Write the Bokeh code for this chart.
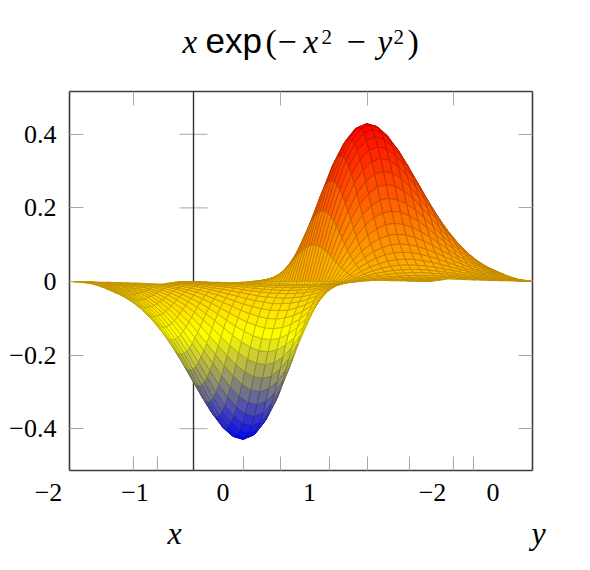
from bokeh.plotting import figure
from bokeh.models import (ColumnDataSource, FixedTicker, LabelSet, LinearAxis, Range1d)
from bokeh.core.properties import value
from bokeh.embed import file_html
from bokeh.resources import INLINE
import numpy as np

# Surface heights, in thousandths.
# Rows run along x_samples, columns along y_samples.
x_samples = [-2.0,-1.9,-1.8,-1.7,-1.6,-1.5,-1.4,-1.3,-1.2,-1.1,-1.0,-0.9,-0.8,-0.7,-0.6,-0.5,-0.4,-0.3,-0.2,-0.1,0.0,
             0.1,0.2,0.3,0.4,0.5,0.6,0.7,0.8,0.9,1.0,1.1,1.2,1.3,1.4,1.5,1.6,1.7,1.8,1.9,2.0]
y_samples = list(x_samples)
z_thousandths = [
[-1,-1,-1,-2,-3,-4,-5,-7,-9,-11,-14,-16,-20,-23,-26,-29,-32,-34,-36,-37,-37,-37,-36,-34,-32,-29,-26,-23,-20,-16,-14,-11,-9,-7,-5,-4,-3,-2,-1,-1,-1],
[-1,-1,-2,-3,-4,-5,-7,-9,-12,-15,-19,-23,-27,-31,-36,-40,-43,-47,-49,-50,-51,-50,-49,-47,-43,-40,-36,-31,-27,-23,-19,-15,-12,-9,-7,-5,-4,-3,-2,-1,-1],
[-1,-2,-3,-4,-5,-7,-10,-13,-17,-21,-26,-32,-37,-44,-50,-55,-60,-65,-68,-70,-71,-70,-68,-65,-60,-55,-50,-44,-37,-32,-26,-21,-17,-13,-10,-7,-5,-4,-3,-2,-1],
[-2,-3,-4,-5,-7,-10,-13,-18,-23,-28,-35,-42,-50,-58,-66,-74,-81,-87,-91,-94,-95,-94,-91,-87,-81,-74,-66,-58,-50,-42,-35,-28,-23,-18,-13,-10,-7,-5,-4,-3,-2],
[-2,-3,-5,-7,-10,-13,-17,-23,-29,-37,-46,-55,-65,-76,-87,-97,-106,-113,-119,-123,-124,-123,-119,-113,-106,-97,-87,-76,-65,-55,-46,-37,-29,-23,-17,-13,-10,-7,-5,-3,-2],
[-3,-4,-6,-9,-12,-17,-22,-29,-37,-47,-58,-70,-83,-97,-110,-123,-135,-144,-152,-156,-158,-156,-152,-144,-135,-123,-110,-97,-83,-70,-58,-47,-37,-29,-22,-17,-12,-9,-6,-4,-3],
[-4,-5,-8,-11,-15,-21,-28,-36,-47,-59,-72,-88,-104,-121,-138,-153,-168,-180,-189,-195,-197,-195,-189,-180,-168,-153,-138,-121,-104,-88,-72,-59,-47,-36,-28,-21,-15,-11,-8,-5,-4],
[-4,-6,-9,-13,-18,-25,-34,-44,-57,-72,-88,-107,-126,-147,-168,-187,-204,-219,-231,-238,-240,-238,-231,-219,-204,-187,-168,-147,-126,-107,-88,-72,-57,-44,-34,-25,-18,-13,-9,-6,-4],
[-5,-8,-11,-16,-22,-30,-40,-53,-67,-85,-105,-126,-150,-174,-198,-221,-242,-260,-273,-281,-284,-281,-273,-260,-242,-221,-198,-174,-150,-126,-105,-85,-67,-53,-40,-30,-22,-16,-11,-8,-5],
[-6,-9,-13,-18,-25,-34,-46,-61,-78,-98,-121,-146,-173,-201,-229,-256,-279,-300,-315,-325,-328,-325,-315,-300,-279,-256,-229,-201,-173,-146,-121,-98,-78,-61,-46,-34,-25,-18,-13,-9,-6],
[-7,-10,-14,-21,-28,-39,-52,-68,-87,-110,-135,-164,-194,-226,-257,-287,-314,-336,-354,-364,-368,-364,-354,-336,-314,-287,-257,-226,-194,-164,-135,-110,-87,-68,-52,-39,-28,-21,-14,-10,-7],
[-7,-11,-16,-22,-31,-42,-56,-74,-95,-119,-147,-178,-211,-245,-279,-312,-341,-366,-384,-396,-400,-396,-384,-366,-341,-312,-279,-245,-211,-178,-147,-119,-95,-74,-56,-42,-31,-22,-16,-11,-7],
[-8,-11,-16,-24,-32,-44,-60,-78,-100,-126,-155,-188,-222,-259,-295,-329,-360,-386,-406,-418,-422,-418,-406,-386,-360,-329,-295,-259,-222,-188,-155,-126,-100,-78,-60,-44,-32,-24,-16,-11,-8],
[-8,-12,-17,-24,-33,-45,-60,-79,-102,-128,-158,-191,-226,-263,-299,-334,-366,-392,-412,-425,-429,-425,-412,-392,-366,-334,-299,-263,-226,-191,-158,-128,-102,-79,-60,-45,-33,-24,-17,-12,-8],
[-8,-11,-16,-23,-32,-44,-59,-78,-99,-125,-154,-186,-221,-257,-292,-326,-357,-383,-403,-415,-419,-415,-403,-383,-357,-326,-292,-257,-221,-186,-154,-125,-99,-78,-59,-44,-32,-23,-16,-11,-8],
[-7,-11,-15,-22,-30,-41,-55,-72,-92,-116,-143,-173,-205,-238,-272,-303,-331,-356,-374,-385,-389,-385,-374,-356,-331,-303,-272,-238,-205,-173,-143,-116,-92,-72,-55,-41,-30,-22,-15,-11,-7],
[-6,-9,-13,-19,-26,-36,-48,-63,-81,-102,-125,-152,-180,-209,-238,-266,-291,-312,-328,-338,-341,-338,-328,-312,-291,-266,-238,-209,-180,-152,-125,-102,-81,-63,-48,-36,-26,-19,-13,-9,-6],
[-5,-7,-11,-15,-21,-29,-39,-51,-65,-82,-101,-122,-144,-168,-191,-213,-233,-250,-263,-271,-274,-271,-263,-250,-233,-213,-191,-168,-144,-122,-101,-82,-65,-51,-39,-29,-21,-15,-11,-7,-5],
[-4,-5,-7,-11,-15,-20,-27,-36,-46,-57,-71,-85,-101,-118,-134,-150,-164,-175,-185,-190,-192,-190,-185,-175,-164,-150,-134,-118,-101,-85,-71,-57,-46,-36,-27,-20,-15,-11,-7,-5,-4],
[-2,-3,-4,-6,-8,-10,-14,-18,-23,-30,-36,-44,-52,-61,-69,-77,-84,-90,-95,-98,-99,-98,-95,-90,-84,-77,-69,-61,-52,-44,-36,-30,-23,-18,-14,-10,-8,-6,-4,-3,-2],
[0,0,0,0,0,0,0,0,0,0,0,0,0,0,0,0,0,0,0,0,0,0,0,0,0,0,0,0,0,0,0,0,0,0,0,0,0,0,0,0,0],
[2,3,4,6,8,10,14,18,23,30,36,44,52,61,69,77,84,90,95,98,99,98,95,90,84,77,69,61,52,44,36,30,23,18,14,10,8,6,4,3,2],
[4,5,7,11,15,20,27,36,46,57,71,85,101,118,134,150,164,175,185,190,192,190,185,175,164,150,134,118,101,85,71,57,46,36,27,20,15,11,7,5,4],
[5,7,11,15,21,29,39,51,65,82,101,122,144,168,191,213,233,250,263,271,274,271,263,250,233,213,191,168,144,122,101,82,65,51,39,29,21,15,11,7,5],
[6,9,13,19,26,36,48,63,81,102,125,152,180,209,238,266,291,312,328,338,341,338,328,312,291,266,238,209,180,152,125,102,81,63,48,36,26,19,13,9,6],
[7,11,15,22,30,41,55,72,92,116,143,173,205,238,272,303,331,356,374,385,389,385,374,356,331,303,272,238,205,173,143,116,92,72,55,41,30,22,15,11,7],
[8,11,16,23,32,44,59,78,99,125,154,186,221,257,292,326,357,383,403,415,419,415,403,383,357,326,292,257,221,186,154,125,99,78,59,44,32,23,16,11,8],
[8,12,17,24,33,45,60,79,102,128,158,191,226,263,299,334,366,392,412,425,429,425,412,392,366,334,299,263,226,191,158,128,102,79,60,45,33,24,17,12,8],
[8,11,16,24,32,44,60,78,100,126,155,188,222,259,295,329,360,386,406,418,422,418,406,386,360,329,295,259,222,188,155,126,100,78,60,44,32,24,16,11,8],
[7,11,16,22,31,42,56,74,95,119,147,178,211,245,279,312,341,366,384,396,400,396,384,366,341,312,279,245,211,178,147,119,95,74,56,42,31,22,16,11,7],
[7,10,14,21,28,39,52,68,87,110,135,164,194,226,257,287,314,336,354,364,368,364,354,336,314,287,257,226,194,164,135,110,87,68,52,39,28,21,14,10,7],
[6,9,13,18,25,34,46,61,78,98,121,146,173,201,229,256,279,300,315,325,328,325,315,300,279,256,229,201,173,146,121,98,78,61,46,34,25,18,13,9,6],
[5,8,11,16,22,30,40,53,67,85,105,126,150,174,198,221,242,260,273,281,284,281,273,260,242,221,198,174,150,126,105,85,67,53,40,30,22,16,11,8,5],
[4,6,9,13,18,25,34,44,57,72,88,107,126,147,168,187,204,219,231,238,240,238,231,219,204,187,168,147,126,107,88,72,57,44,34,25,18,13,9,6,4],
[4,5,8,11,15,21,28,36,47,59,72,88,104,121,138,153,168,180,189,195,197,195,189,180,168,153,138,121,104,88,72,59,47,36,28,21,15,11,8,5,4],
[3,4,6,9,12,17,22,29,37,47,58,70,83,97,110,123,135,144,152,156,158,156,152,144,135,123,110,97,83,70,58,47,37,29,22,17,12,9,6,4,3],
[2,3,5,7,10,13,17,23,29,37,46,55,65,76,87,97,106,113,119,123,124,123,119,113,106,97,87,76,65,55,46,37,29,23,17,13,10,7,5,3,2],
[2,3,4,5,7,10,13,18,23,28,35,42,50,58,66,74,81,87,91,94,95,94,91,87,81,74,66,58,50,42,35,28,23,18,13,10,7,5,4,3,2],
[1,2,3,4,5,7,10,13,17,21,26,32,37,44,50,55,60,65,68,70,71,70,68,65,60,55,50,44,37,32,26,21,17,13,10,7,5,4,3,2,1],
[1,1,2,3,4,5,7,9,12,15,19,23,27,31,36,40,43,47,49,50,51,50,49,47,43,40,36,31,27,23,19,15,12,9,7,5,4,3,2,1,1],
[1,1,1,2,3,4,5,7,9,11,14,16,20,23,26,29,32,34,36,37,37,37,36,34,32,29,26,23,20,16,14,11,9,7,5,4,3,2,1,1,1],
]
y_ticks = [-0.4, -0.2, 0, 0.2, 0.4]
y_tick_labels = ["\u22120.4", "\u22120.2", "0", "0.2", "0.4"]
bottom_ticks = [132.7, 156.7, 193, 242.7, 280, 329, 367, 409, 453, 473]
top_ticks = [132.7, 280, 367, 453]
x_tick_labels = ["\u22122", "\u22121", "0", "1", "\u22122", "0"]
x_tick_label_pos = [48, 134.5, 222.6, 309, 432, 492.5]

# Oblique view: the surface seen edge-on, so height maps straight to the y axis.
X0, XA, YB = 304.5, 88.4, 27.5
PY0, PYS = 281.0, 368.0
BOX_L, BOX_R, BOX_T, BOX_B = 69, 532, 91, 470
def zy(py):
    return (PY0 - py) / PYS

stops = np.array([[0, 0, 255], [255, 255, 0], [255, 128, 0], [255, 0, 0]], float)
def mapped(z):
    t = np.clip((z + 0.43) / 0.86, 0, 1) * 3
    i = min(int(t), 2)
    return stops[i] + (stops[i + 1] - stops[i]) * (t - i)
def hexc(c):
    return "#%02x%02x%02x" % tuple(int(round(v)) for v in c)

xg, yg = np.meshgrid(x_samples, y_samples, indexing="ij")
zg = np.array(z_thousandths, float) / 1000.0
sx = np.clip(X0 + XA * xg + YB * yg, BOX_L, BOX_R)
cells = []
# Painted from the largest x down to the smallest, as the reference's layering shows.
for i in range(len(x_samples) - 2, -1, -1):
    for j in range(len(y_samples) - 1):
        idx = [(i, j), (i + 1, j), (i + 1, j + 1), (i, j + 1)]
        c = mapped(np.mean([zg[k] for k in idx]))
        cells.append(([sx[k] for k in idx], [zg[k] for k in idx], hexc(c), hexc(c * 0.76)))

W, H = 574, 554
p = figure(width=W, height=H, output_backend="svg", toolbar_location=None,
           x_range=Range1d(0, W), y_range=Range1d(zy(H), zy(0)),
           min_border=0, x_axis_type=None, y_axis_type=None,
           background_fill_color="white", outline_line_color=None)
p.grid.visible = False

TICK = "#a8a8a8"
BOX = "#3c3c3c"
def frame_axis(ticks, side, loc, bounds, **kw):
    a = LinearAxis(ticker=FixedTicker(ticks=ticks), fixed_location=loc, bounds=bounds,
                   major_tick_in=14, major_tick_out=0, minor_tick_line_color=None,
                   major_tick_line_color=TICK, major_tick_line_width=1,
                   axis_line_color=BOX, axis_line_width=1.6, level="underlay",
                   major_label_text_color=None, **kw)
    p.add_layout(a, side)
    return a

zb = (zy(BOX_B), zy(BOX_T))
xb = (BOX_L, BOX_R)
left = frame_axis(y_ticks, "left", BOX_L, zb)
left.major_label_text_color = "black"
left.major_label_text_font = "Liberation Serif"
left.major_label_text_font_size = "26px"
left.major_label_standoff = 13
left.major_label_overrides = dict(zip(y_ticks, y_tick_labels))
for ax in [frame_axis(y_ticks, "right", BOX_R, zb),
           frame_axis(bottom_ticks, "below", zy(BOX_B), xb),
           frame_axis(top_ticks, "above", zy(BOX_T), xb)]:
    ax.major_label_overrides = {t: "" for t in ax.ticker.ticks}

# The vertical line and its ticks stand behind the surface.
ny = len(y_ticks)
p.segment(x0=[179] * ny, x1=[207] * ny, y0=y_ticks, y1=y_ticks, line_color=TICK, line_width=1)
p.segment(x0=[193], x1=[193], y0=[zy(BOX_B)], y1=[zy(BOX_T)], line_color="#333333", line_width=1.4)

p.patches(xs=[c[0] for c in cells], ys=[c[1] for c in cells],
          fill_color=[c[2] for c in cells], line_color=[c[3] for c in cells], line_width=0.9)

S = "Liberation Serif"
src = ColumnDataSource(dict(x=x_tick_label_pos, y=[zy(500.5)] * len(x_tick_labels), t=x_tick_labels))
p.add_layout(LabelSet(x="x", y="y", text="t", source=src, text_font=value(S),
                      text_font_size="26px", text_align="center", text_baseline="alphabetic",
                      text_color="black"))

def put(text, px, py, font, size, style="normal"):
    s = ColumnDataSource(dict(x=[px], y=[zy(py)], t=[text]))
    p.add_layout(LabelSet(x="x", y="y", text="t", source=s, text_font=value(font), text_font_size=size,
                          text_font_style=style, text_color="black", text_align="left",
                          text_baseline="alphabetic"))

put("x", 167, 543, S, "32px", "italic")
put("y", 531, 543, S, "32px", "italic")
put("x", 182, 52, S, "33px", "italic")
put("exp", 205, 52, "Liberation Sans", "35px")
put("(", 265, 52, S, "34px")
put("\u2212", 277, 52, S, "34px")
put("x", 303, 52, S, "33px", "italic")
put("2", 321, 43, S, "21px")
put("\u2212", 346, 52, S, "34px")
put("y", 377, 52, S, "33px", "italic")
put("2", 393, 43, S, "21px")
put(")", 407, 52, S, "34px")

open("out.html", "w").write(file_html(p, INLINE))
